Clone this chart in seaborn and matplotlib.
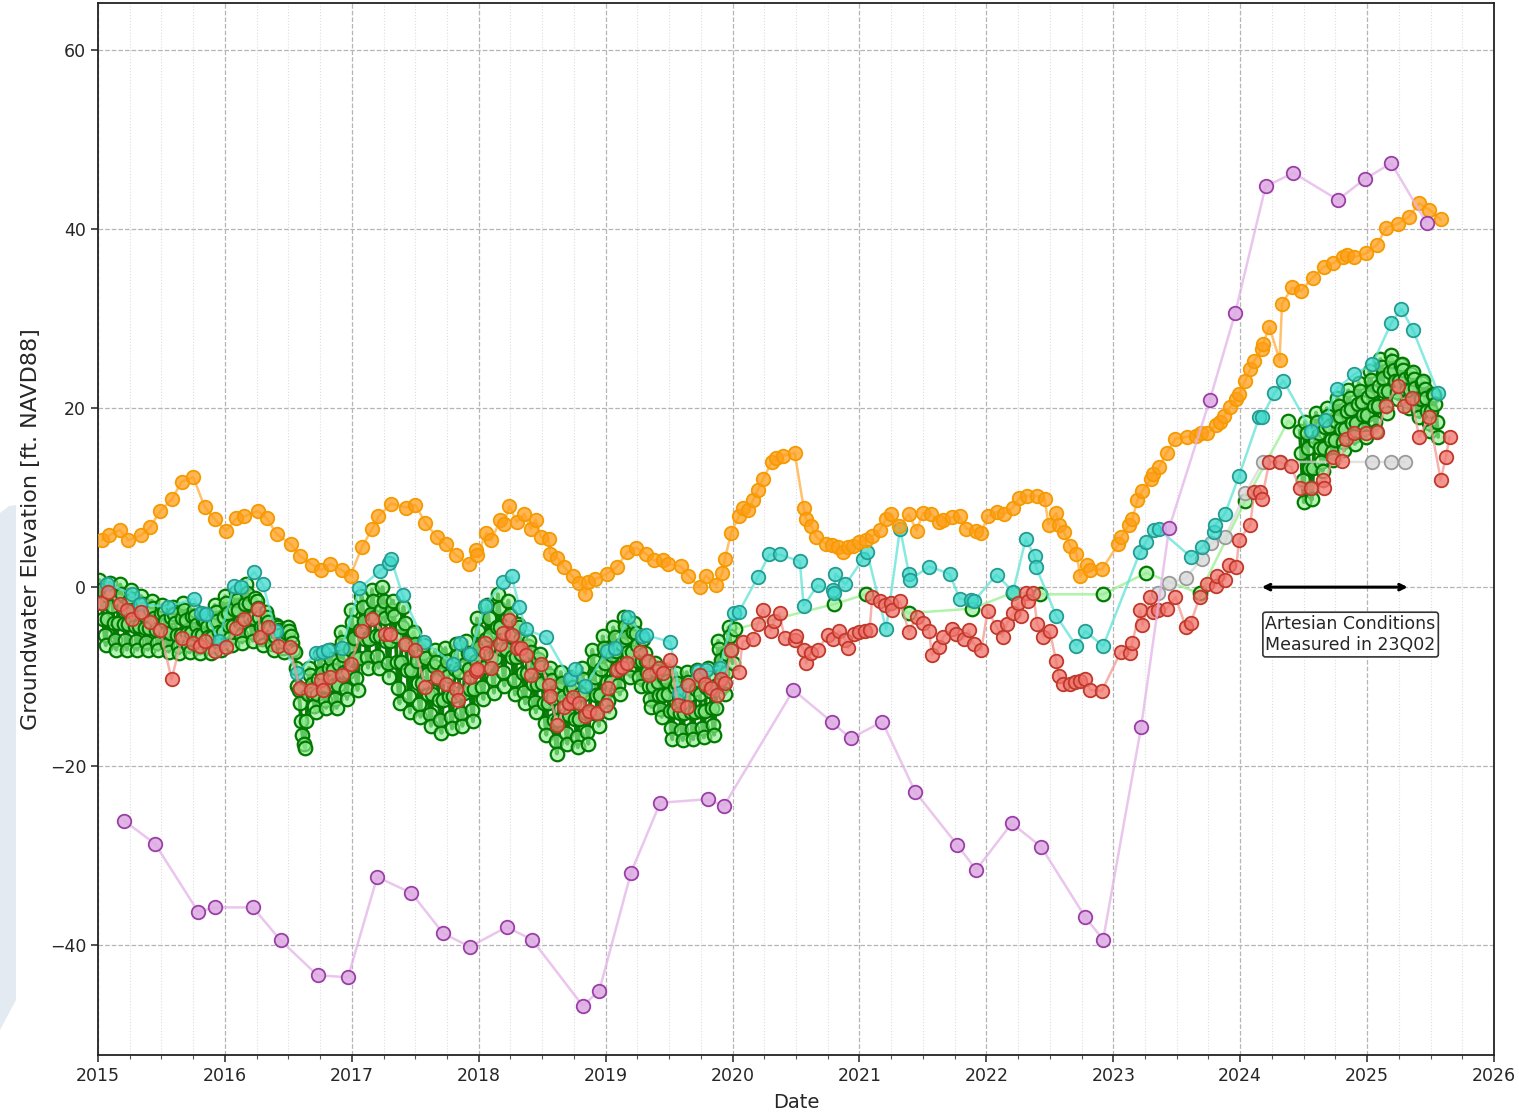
import numpy as np
import pandas as pd
import matplotlib
matplotlib.use("Agg")
import matplotlib.pyplot as plt
import seaborn as sns
from matplotlib.patches import Polygon
from matplotlib.ticker import MultipleLocator, FuncFormatter

# ---------------------------------------------------------------------------
# Groundwater elevation records (decimal year, ft NAVD88)
# ---------------------------------------------------------------------------

# Orange well
orange_t = [2015.03, 2015.09, 2015.17, 2015.24, 2015.34, 2015.41, 2015.49, 2015.58, 2015.66, 2015.75,
            2015.84, 2015.92, 2016.01, 2016.09, 2016.15, 2016.26, 2016.33, 2016.41, 2016.52, 2016.59,
            2016.69, 2016.76, 2016.83, 2016.92, 2016.99, 2017.08, 2017.16, 2017.21, 2017.31, 2017.43,
            2017.50, 2017.58, 2017.67, 2017.74, 2017.82, 2017.92, 2017.98, 2017.99, 2018.06, 2018.10,
            2018.17, 2018.20, 2018.24, 2018.30, 2018.36, 2018.41, 2018.45, 2018.49, 2018.55, 2018.56,
            2018.62, 2018.67, 2018.74, 2018.79, 2018.84, 2018.86, 2018.92, 2019.01, 2019.09, 2019.17,
            2019.24, 2019.32, 2019.38, 2019.45, 2019.49, 2019.59, 2019.65, 2019.74, 2019.79, 2019.87,
            2019.92, 2019.94, 2019.99, 2020.05, 2020.08, 2020.12, 2020.16, 2020.20, 2020.24, 2020.31,
            2020.34, 2020.40, 2020.49, 2020.56, 2020.58, 2020.62, 2020.66, 2020.74, 2020.78, 2020.83,
            2020.87, 2020.91, 2020.95, 2021.00, 2021.05, 2021.10, 2021.16, 2021.21, 2021.25, 2021.31,
            2021.39, 2021.45, 2021.50, 2021.56, 2021.63, 2021.66, 2021.73, 2021.79, 2021.84, 2021.92,
            2021.96, 2022.01, 2022.08, 2022.14, 2022.21, 2022.26, 2022.32, 2022.40, 2022.46, 2022.49,
            2022.55, 2022.57, 2022.61, 2022.66, 2022.71, 2022.74, 2022.79, 2022.82, 2022.91, 2023.04,
            2023.06, 2023.12, 2023.15, 2023.19, 2023.23, 2023.30, 2023.31, 2023.36, 2023.42, 2023.49,
            2023.58, 2023.65, 2023.69, 2023.74, 2023.81, 2023.84, 2023.87, 2023.92, 2023.97, 2023.99,
            2024.04, 2024.08, 2024.11, 2024.17, 2024.18, 2024.23, 2024.31, 2024.33, 2024.41, 2024.48,
            2024.57, 2024.66, 2024.73, 2024.81, 2024.84, 2024.90, 2024.99, 2025.08, 2025.15, 2025.24,
            2025.33, 2025.41, 2025.49, 2025.58]
orange_v = [5.25, 5.8, 6.4, 5.25, 5.8, 6.7, 8.5, 9.8, 11.8, 12.3,
            9.0, 7.6, 6.3, 7.7, 7.9, 8.5, 7.7, 5.9, 4.8, 3.5,
            2.5, 1.9, 2.6, 1.9, 1.3, 4.5, 6.5, 7.9, 9.35, 8.9,
            9.2, 7.2, 5.6, 4.8, 3.6, 2.6, 4.1, 3.6, 6.1, 5.25,
            7.5, 7.1, 9.05, 7.3, 8.2, 6.45, 7.55, 5.6, 5.4, 3.75,
            3.3, 2.3, 1.2, 0.5, -0.8, 0.6, 0.9, 1.5, 2.3, 3.9,
            4.4, 3.7, 3.0, 3.0, 2.6, 2.35, 1.3, 0.0, 1.3, 0.2,
            1.6, 3.2, 6.1, 7.9, 8.8, 8.6, 9.7, 10.9, 12.1, 14.0,
            14.4, 14.7, 15.0, 8.9, 7.6, 6.8, 5.6, 4.8, 4.7, 4.5,
            3.9, 4.5, 4.6, 5.1, 5.3, 5.7, 6.4, 7.6, 8.2, 6.8,
            8.15, 6.3, 8.3, 8.2, 7.3, 7.5, 7.8, 7.9, 6.55, 6.3,
            6.1, 7.9, 8.4, 8.15, 8.9, 10.0, 10.2, 10.2, 9.8, 7.0,
            8.3, 7.0, 6.2, 4.6, 3.7, 1.2, 2.5, 1.9, 2.0, 4.8,
            5.55, 6.9, 7.6, 9.7, 10.8, 12.1, 12.7, 13.4, 15.0, 16.6,
            16.8, 16.9, 17.2, 17.2, 18.1, 18.5, 19.1, 20.1, 21.0, 21.6,
            23.1, 24.4, 25.3, 26.6, 27.2, 29.1, 25.4, 31.7, 33.5, 33.1,
            34.6, 35.8, 36.2, 36.9, 37.1, 36.9, 37.3, 38.3, 40.2, 40.6,
            41.4, 42.9, 42.2, 41.1]

# Purple well
purple_t = [2015.205, 2015.45, 2015.79, 2015.92, 2016.22, 2016.44, 2016.73, 2016.97, 2017.20, 2017.47,
            2017.72, 2017.93, 2018.22, 2018.42, 2018.82, 2018.95, 2019.20, 2019.43, 2019.81, 2019.93,
            2020.48, 2020.78, 2020.93, 2021.18, 2021.44, 2021.77, 2021.92, 2022.20, 2022.43, 2022.78,
            2022.92, 2023.22, 2023.44, 2023.76, 2023.96, 2024.20, 2024.42, 2024.77, 2024.98, 2025.19,
            2025.47]
purple_v = [-26.1, -28.7, -36.3, -35.8, -35.8, -39.5, -43.4, -43.6, -32.4, -34.2,
            -38.7, -40.2, -38.0, -39.4, -46.8, -45.1, -31.9, -24.1, -23.7, -24.5,
            -11.5, -15.05, -16.9, -15.05, -22.9, -28.8, -31.6, -26.4, -29.0, -36.9,
            -39.4, -15.6, 6.6, 20.9, 30.6, 44.8, 46.3, 43.3, 45.6, 47.4,
            40.7]

# Turquoise well
cyan_t = [2015.07, 2015.27, 2015.33, 2015.55, 2015.76, 2015.81, 2015.85, 2015.95, 2016.07, 2016.13,
          2016.23, 2016.30, 2016.40, 2016.57, 2016.72, 2016.77, 2016.81, 2016.92, 2017.06, 2017.22,
          2017.29, 2017.31, 2017.40, 2017.57, 2017.80, 2017.85, 2017.93, 2018.05, 2018.19, 2018.26,
          2018.32, 2018.37, 2018.53, 2018.72, 2018.76, 2018.84, 2019.01, 2019.07, 2019.18, 2019.29,
          2019.32, 2019.51, 2019.58, 2019.73, 2019.79, 2019.90, 2020.01, 2020.05, 2020.20, 2020.29,
          2020.37, 2020.53, 2020.56, 2020.67, 2020.79, 2020.80, 2020.81, 2020.89, 2021.03, 2021.06,
          2021.21, 2021.32, 2021.39, 2021.40, 2021.55, 2021.71, 2021.79, 2021.88, 2021.90, 2022.08,
          2022.21, 2022.31, 2022.38, 2022.39, 2022.55, 2022.71, 2022.78, 2022.92, 2023.21, 2023.26,
          2023.32, 2023.36, 2023.61, 2023.70, 2023.79, 2023.80, 2023.88, 2023.99, 2024.15, 2024.17,
          2024.27, 2024.34, 2024.56, 2024.67, 2024.76, 2024.90, 2025.04, 2025.19, 2025.27, 2025.36,
          2025.56]
cyan_v = [0.4, -0.8, -1.9, -2.2, -1.3, -2.9, -2.95, -6.0, 0.1, 0.0,
          1.7, 0.3, -4.9, -9.6, -7.4, -7.2, -7.0, -6.85, -0.15, 1.8,
          2.7, 3.1, -0.9, -6.1, -8.6, -6.2, -7.5, -2.1, 0.6, 1.2,
          -2.2, -4.7, -5.6, -10.3, -9.1, -11.1, -7.1, -6.85, -3.3, -5.5,
          -5.4, -6.1, -11.8, -9.35, -9.3, -9.0, -2.9, -2.8, 1.15, 3.65,
          3.65, 2.9, -2.1, 0.2, -0.3, -0.6, 1.5, 0.3, 3.2, 3.9,
          -4.7, 6.55, 1.5, 0.85, 2.3, 1.5, -1.3, -1.4, -1.6, 1.4,
          -0.5, 5.35, 3.5, 2.3, -3.2, -6.6, -4.9, -6.6, 3.9, 5.1,
          6.4, 6.45, 3.4, 4.5, 6.2, 6.9, 8.2, 12.4, 19.0, 19.0,
          21.7, 23.1, 17.5, 18.7, 22.2, 23.8, 24.9, 29.5, 31.1, 28.8,
          21.7]

# Red well
red_t = [2015.02, 2015.08, 2015.17, 2015.23, 2015.27, 2015.34, 2015.41, 2015.49, 2015.58, 2015.66,
         2015.75, 2015.80, 2015.84, 2015.92, 2016.01, 2016.09, 2016.15, 2016.26, 2016.28, 2016.34,
         2016.42, 2016.51, 2016.59, 2016.68, 2016.76, 2016.77, 2016.83, 2016.92, 2016.99, 2017.08,
         2017.16, 2017.26, 2017.30, 2017.42, 2017.50, 2017.58, 2017.67, 2017.74, 2017.82, 2017.84,
         2017.93, 2017.98, 2017.99, 2018.05, 2018.06, 2018.10, 2018.17, 2018.19, 2018.24, 2018.26,
         2018.30, 2018.33, 2018.37, 2018.41, 2018.49, 2018.55, 2018.56, 2018.62, 2018.67, 2018.71,
         2018.74, 2018.79, 2018.84, 2018.87, 2018.93, 2019.00, 2019.02, 2019.09, 2019.13, 2019.17,
         2019.27, 2019.33, 2019.34, 2019.42, 2019.45, 2019.51, 2019.57, 2019.64, 2019.65, 2019.74,
         2019.78, 2019.83, 2019.88, 2019.91, 2019.94, 2019.99, 2020.05, 2020.08, 2020.16, 2020.20,
         2020.24, 2020.30, 2020.33, 2020.37, 2020.41, 2020.49, 2020.50, 2020.56, 2020.58, 2020.62,
         2020.67, 2020.75, 2020.79, 2020.84, 2020.89, 2020.91, 2020.96, 2021.00, 2021.04, 2021.08,
         2021.10, 2021.16, 2021.20, 2021.25, 2021.26, 2021.32, 2021.39, 2021.45, 2021.50, 2021.55,
         2021.57, 2021.63, 2021.66, 2021.73, 2021.76, 2021.82, 2021.86, 2021.90, 2021.96, 2022.01,
         2022.08, 2022.13, 2022.16, 2022.21, 2022.25, 2022.27, 2022.31, 2022.33, 2022.37, 2022.40,
         2022.45, 2022.50, 2022.55, 2022.57, 2022.60, 2022.66, 2022.70, 2022.74, 2022.78, 2022.82,
         2022.91, 2023.06, 2023.13, 2023.15, 2023.21, 2023.23, 2023.29, 2023.31, 2023.35, 2023.42,
         2023.49, 2023.57, 2023.61, 2023.68, 2023.74, 2023.81, 2023.82, 2023.88, 2023.91, 2023.97,
         2023.99, 2024.08, 2024.11, 2024.16, 2024.17, 2024.23, 2024.31, 2024.40, 2024.47, 2024.56,
         2024.65, 2024.66, 2024.73, 2024.80, 2024.83, 2024.90, 2024.99, 2025.08, 2025.15, 2025.24,
         2025.29, 2025.35, 2025.41, 2025.49, 2025.58, 2025.62, 2025.65]
red_v = [-1.75, -0.5, -1.9, -2.6, -3.6, -2.75, -3.9, -4.8, -10.3, -5.7,
         -6.2, -6.6, -6.0, -7.1, -6.7, -4.6, -3.6, -2.4, -5.55, -4.4,
         -6.6, -6.7, -11.3, -11.5, -10.4, -11.5, -10.1, -9.8, -8.6, -4.9,
         -3.6, -5.25, -5.25, -6.3, -7.0, -11.2, -10.1, -10.8, -11.4, -12.6,
         -10.1, -9.35, -9.1, -6.2, -7.4, -9.0, -6.4, -5.1, -3.7, -5.4,
         -6.85, -6.85, -7.6, -9.8, -8.6, -10.9, -12.2, -15.4, -13.4, -13.0,
         -12.3, -13.0, -14.4, -13.8, -14.1, -13.2, -11.3, -9.3, -8.9, -8.45,
         -7.2, -8.2, -9.8, -9.0, -9.6, -8.1, -13.2, -13.4, -10.9, -9.8,
         -10.8, -11.3, -12.1, -10.3, -10.7, -7.0, -9.5, -6.1, -5.75, -4.1,
         -2.5, -4.9, -3.75, -2.9, -5.7, -5.9, -5.5, -7.0, -8.5, -7.4,
         -7.0, -5.4, -5.75, -4.9, -5.9, -6.85, -5.2, -5.0, -4.9, -4.8,
         -1.15, -1.5, -2.0, -1.75, -2.6, -1.6, -5.0, -3.3, -4.0, -4.9,
         -7.6, -6.7, -5.55, -4.7, -5.25, -5.75, -4.8, -6.3, -7.0, -2.65,
         -4.4, -5.55, -4.1, -2.9, -1.75, -3.25, -0.6, -1.6, -0.7, -4.1,
         -5.55, -4.9, -8.3, -9.9, -10.8, -10.8, -10.6, -10.5, -10.3, -11.5,
         -11.6, -7.2, -7.4, -6.2, -2.6, -4.25, -1.1, -2.75, -2.6, -2.4,
         -1.1, -4.4, -4.05, -1.1, 0.4, 0.1, 1.3, 0.8, 2.5, 2.3,
         5.25, 7.0, 10.65, 10.65, 9.9, 14.0, 14.0, 13.5, 11.1, 11.1,
         12.0, 11.1, 14.6, 14.1, 16.6, 17.2, 17.2, 17.3, 20.3, 22.5,
         20.3, 21.1, 16.8, 19.0, 12.0, 14.5, 16.8]

# Grey well
grey_t = [2023.35, 2023.44, 2023.57, 2023.70, 2023.77, 2023.88, 2024.04, 2024.18, 2024.31, 2025.04,
          2025.19, 2025.30]
grey_v = [-0.6, 0.5, 1.0, 3.2, 4.9, 5.55, 10.5, 14.0, 14.0, 14.0,
          14.0, 14.0]

# Green well: transducer record 2015-2019, eight readings per month (one row per year)
green_logger1 = [
    # 2015
    0.8, -0.3, -1.8, -3.6, -5.4, -6.5, -3.6, -1.0,   0.5, -0.6, -2.1, -4.0, -5.9, -7.0, -4.0, -1.4,
    0.3, -0.8, -2.3, -4.1, -5.9, -7.0, -4.1, -1.5,   -0.3, -1.3, -2.6, -4.3, -6.0, -7.0, -4.3, -2.0,
    -1.0, -1.9, -3.1, -4.6, -6.1, -7.0, -4.6, -2.5,  -1.5, -2.3, -3.4, -4.8, -6.2, -7.0, -4.8, -2.9,
    -2.0, -2.8, -3.8, -5.1, -6.4, -7.2, -5.1, -3.3,  -2.2, -3.0, -4.0, -5.3, -6.6, -7.4, -5.3, -3.5,
    -1.8, -2.6, -3.7, -5.1, -6.5, -7.3, -5.1, -3.2,  -2.5, -3.2, -4.2, -5.4, -6.7, -7.4, -5.4, -3.7,
    -3.0, -3.7, -4.5, -5.6, -6.7, -7.4, -5.6, -4.1,  -2.0, -2.8, -3.8, -5.0, -6.3, -7.0, -5.0, -3.3,
    # 2016
    -1.0, -1.8, -2.9, -4.3, -5.7, -6.5, -4.3, -2.4,  -0.5, -1.4, -2.5, -3.9, -5.3, -6.2, -3.9, -1.9,
    0.4, -0.6, -1.8, -3.4, -5.0, -6.0, -3.4, -1.2,   -1.5, -2.3, -3.3, -4.5, -5.8, -6.5, -4.5, -2.8,
    -3.3, -3.9, -4.6, -5.5, -6.4, -7.0, -5.5, -4.2,  -4.4, -4.8, -5.4, -6.1, -6.8, -7.2, -6.1, -5.1,
    -4.5, -4.9, -5.5, -6.2, -7.0, -7.3, -9.0, -11.0, -11.5, -13.0, -15.0, -16.5, -17.5, -18.0, -15.0, -12.0,
    -9.0, -9.8, -10.8, -12.0, -13.3, -14.0, -12.0, -10.3,  -7.5, -8.4, -9.6, -11.1, -12.6, -13.5, -11.1, -9.0,
    -7.0, -8.0, -9.3, -10.9, -12.5, -13.5, -10.9, -8.6,  -5.0, -6.1, -7.6, -9.5, -11.4, -12.5, -9.5, -6.9,
    # 2017
    -2.5, -3.9, -5.7, -7.9, -10.2, -11.5, -7.9, -4.8,  -1.0, -2.2, -3.8, -5.8, -7.8, -9.0, -5.8, -3.0,
    -0.3, -1.6, -3.3, -5.5, -7.7, -9.0, -5.5, -2.5,    0.0, -1.5, -3.5, -6.0, -8.5, -10.0, -6.0, -2.5,
    -1.5, -3.2, -5.5, -8.4, -11.3, -13.0, -8.4, -4.4,  -2.2, -4.0, -6.3, -9.3, -12.2, -14.0, -9.3, -5.2,
    -5.0, -6.4, -8.3, -10.7, -13.1, -14.5, -10.7, -7.4,  -6.5, -7.9, -9.7, -11.9, -14.2, -15.5, -11.9, -8.8,
    -7.0, -8.4, -10.3, -12.6, -14.9, -16.3, -12.6, -9.3,  -6.8, -8.2, -9.9, -12.2, -14.5, -15.8, -12.2, -9.1,
    -6.3, -7.7, -9.5, -11.8, -14.1, -15.5, -11.8, -8.6,  -6.0, -7.4, -9.2, -11.4, -13.7, -15.0, -11.4, -8.3,
    # 2018
    -3.5, -4.9, -6.7, -8.9, -11.2, -12.5, -8.9, -5.8,  -2.0, -3.5, -5.4, -7.9, -10.3, -11.8, -7.9, -4.5,
    -0.8, -2.3, -4.4, -6.9, -9.5, -11.0, -6.9, -3.4,   -1.5, -3.1, -5.2, -7.8, -10.4, -12.0, -7.8, -4.1,
    -4.5, -5.8, -7.5, -9.6, -11.7, -13.0, -9.6, -6.6,  -6.0, -7.2, -8.8, -10.8, -12.8, -14.0, -10.8, -8.0,
    -7.5, -8.9, -10.7, -12.9, -15.2, -16.5, -12.9, -9.8,  -9.0, -10.4, -12.4, -14.8, -17.2, -18.6, -14.8, -11.4,
    -9.5, -10.7, -12.3, -14.3, -16.3, -17.5, -14.3, -11.5,  -10.0, -11.2, -12.8, -14.7, -16.7, -17.9, -14.7, -12.0,
    -9.0, -10.3, -12.0, -14.1, -16.2, -17.5, -14.1, -11.1,  -7.0, -8.3, -10.0, -12.1, -14.2, -15.5, -12.1, -9.1,
    # 2019
    -5.5, -6.8, -8.5, -10.6, -12.7, -14.0, -10.6, -7.6,  -4.5, -5.6, -7.1, -9.0, -10.9, -12.0, -9.0, -6.4,
    -3.3, -4.3, -5.6, -7.3, -9.0, -10.0, -7.3, -5.0,   -4.0, -5.1, -6.5, -8.2, -10.0, -11.0, -8.2, -5.8,
    -7.4, -8.3, -9.5, -11.0, -12.5, -13.4, -11.0, -8.9,  -8.5, -9.4, -10.6, -12.1, -13.6, -14.5, -12.1, -10.0,
    -9.3, -10.5, -12.0, -13.9, -15.8, -17.0, -13.9, -11.2,  -9.6, -10.7, -12.2, -14.1, -16.0, -17.1, -14.1, -11.5,
    -9.5, -10.6, -12.1, -14.0, -15.9, -17.0, -14.0, -11.4,  -9.3, -10.4, -11.9, -13.8, -15.7, -16.8, -13.8, -11.2,
    -9.0, -10.1, -11.6, -13.5, -15.4, -16.5, -13.5, -10.9,  -6.0, -6.9, -8.1, -9.6, -11.1, -12.0, -9.6, -7.5,
    # early 2020
    -4.5, -5.5, -7.0, -8.5,
]
green_logger1_start, green_logger1_end = 2015.01, 2020.00

# Green well: hand measurements between logger deployments
green_manual_t = [2020.02, 2020.80, 2021.05, 2021.39, 2021.89, 2022.21, 2022.42, 2022.92, 2023.26, 2023.68,
                  2024.04, 2024.38]
green_manual_v = [-4.7, -1.9, -0.8, -2.9, -2.4, -0.6, -0.8, -0.8, 1.6, -0.7,
                  9.65, 18.6]

# Green well: transducer record 2024-2025, eight readings per month
green_logger2 = [
    17.5, 15.0, 12.0, 9.5,
    18.5, 17.2, 15.5, 13.3, 11.1, 9.8, 13.3, 16.3,   19.5, 18.5, 17.2, 15.6, 14.0, 13.0, 15.6, 17.9,
    20.0, 19.1, 18.0, 16.5, 15.1, 14.2, 16.5, 18.6,   21.2, 20.3, 19.1, 17.7, 16.2, 15.3, 17.7, 19.7,
    22.0, 21.1, 19.9, 18.4, 16.9, 16.0, 18.4, 20.5,   22.8, 21.9, 20.7, 19.2, 17.7, 16.8, 19.2, 21.3,
    24.2, 23.2, 21.9, 20.2, 18.5, 17.5, 20.2, 22.5,   25.5, 24.6, 23.4, 21.9, 20.4, 19.5, 21.9, 24.0,
    26.0, 25.3, 24.3, 23.0, 21.8, 21.0, 23.0, 24.8,   25.0, 24.3, 23.3, 22.0, 20.8, 20.0, 22.0, 23.8,
    24.0, 23.3, 22.3, 21.0, 19.8, 19.0, 21.0, 22.8,   23.0, 22.2, 21.1, 19.7, 18.3, 17.5, 19.7, 21.6,
    21.5, 20.5, 18.5, 16.8,
]
green_logger2_start, green_logger2_end = 2024.47, 2025.56

# Annotation of the artesian period
artesian_span = (2024.17, 2025.32)
artesian_label = "Artesian Conditions\nMeasured in 23Q02"
artesian_label_pos = (2024.87, -5.3)

# ---------------------------------------------------------------------------
# Figure
# ---------------------------------------------------------------------------
sns.set_style("white")
plt.rcParams["font.family"] = ["DejaVu Sans"]

fig = plt.figure(figsize=(15.19, 11.17), dpi=100)
ax = fig.add_axes([98 / 1519, 1 - 1055 / 1117, (1494 - 98) / 1519, (1055 - 3) / 1117])

# faint panel behind the left margin
fig.patches.append(Polygon([(0, 1 - 513 / 1117), (0.006, 1 - 506 / 1117), (16 / 1519, 1 - 505 / 1117),
                            (16 / 1519, 1 - 1000 / 1117), (0, 1 - 1030 / 1117)],
                           closed=True, transform=fig.transFigure, facecolor="#e4eaf1",
                           edgecolor="none", zorder=-5))

MARKER_SIZE = 95


def draw_line(t, v, color, z, lw=1.8, alpha=0.75):
    df = pd.DataFrame({"Date": t, "Elevation": v})
    sns.lineplot(data=df, x="Date", y="Elevation", color=color, lw=lw, alpha=alpha,
                 sort=False, estimator=None, ax=ax, zorder=z)


def draw_points(t, v, face, edge, z, ew=1.3):
    df = pd.DataFrame({"Date": t, "Elevation": v})
    sns.scatterplot(data=df, x="Date", y="Elevation", s=MARKER_SIZE, color=face, edgecolor=edge,
                    linewidth=ew, ax=ax, zorder=z, legend=False)


def draw_series(t, v, line_color, face, edge, z):
    draw_line(t, v, line_color, z)
    draw_points(t, v, face, edge, z + 0.5)


# Green well: loggers plus hand readings form one record
g1_t = np.linspace(green_logger1_start, green_logger1_end, len(green_logger1))
g2_t = np.linspace(green_logger2_start, green_logger2_end, len(green_logger2))
green_t = list(g1_t) + green_manual_t + list(g2_t)
green_v = green_logger1 + green_manual_v + green_logger2
draw_line(green_t, green_v, "#98f08e", 2)
draw_line(g1_t, green_logger1, "#0a7d0a", 2.1, lw=2.8, alpha=1.0)
draw_line(g2_t, green_logger2, "#0a7d0a", 2.1, lw=2.8, alpha=1.0)
draw_points(green_t, green_v, (0.56, 0.93, 0.56, 0.65), "#007a00", 2.5, ew=1.6)

draw_series(grey_t, grey_v, "#d9d9d9", (0.85, 0.85, 0.85, 0.8), "#9a9a9a", 3)
draw_series(cyan_t, cyan_v, "#5fe3d6", (0.25, 0.85, 0.80, 0.75), "#239c92", 4)
draw_series(red_t, red_v, "#f39a92", (0.94, 0.45, 0.42, 0.75), "#c0392b", 5)
draw_series(orange_t, orange_v, "#ffad3a", (1.0, 0.62, 0.10, 0.75), "#f59a00", 6)
draw_series(purple_t, purple_v, "#e3b3e8", (0.87, 0.68, 0.89, 0.9), "#9a3fa6", 7)

# Artesian period arrow and note
ax.annotate("", xy=(artesian_span[0], 0), xytext=(artesian_span[1], 0),
            arrowprops=dict(arrowstyle="<->", lw=2.2, color="black", shrinkA=0, shrinkB=0),
            zorder=10)
ax.text(artesian_label_pos[0], artesian_label_pos[1], artesian_label, ha="center", va="center",
        fontsize=12.5, linespacing=1.25, zorder=10,
        bbox=dict(boxstyle="round,pad=0.15", facecolor="white", edgecolor="#333333", lw=1.2))

# Axes, ticks and grid
ax.set_xlim(2015, 2026)
ax.set_ylim(-52.3, 65.3)
ax.xaxis.set_major_locator(MultipleLocator(1))
ax.xaxis.set_minor_locator(MultipleLocator(0.25))
ax.yaxis.set_major_locator(MultipleLocator(20))
ax.xaxis.set_major_formatter(FuncFormatter(lambda x, p: f"{int(round(x))}"))
ax.yaxis.set_major_formatter(FuncFormatter(lambda y, p: f"{int(round(y))}".replace("-", "\u2212")))

ax.grid(which="major", axis="both", linestyle="--", color="#b5b5b5", lw=0.9)
ax.grid(which="minor", axis="x", linestyle=":", color="#dedede", lw=0.8)
ax.set_axisbelow(True)

ax.tick_params(axis="both", which="major", direction="out", length=5, width=1.1,
               labelsize=12.5, bottom=True, left=True, color="#222222")
ax.tick_params(axis="x", which="minor", direction="out", length=3, width=0.8,
               bottom=True, color="#555555")
for sp in ax.spines.values():
    sp.set_color("#222222")
    sp.set_linewidth(1.3)

ax.set_xlabel("Date", fontsize=14, labelpad=6)
ax.set_ylabel("Groundwater Elevation [ft. NAVD88]", fontsize=16, labelpad=6)

fig.savefig("out.png", dpi=100)
